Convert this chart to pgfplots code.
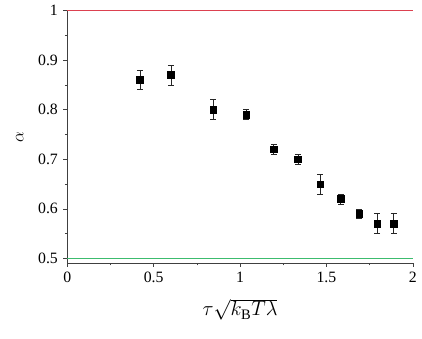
\documentclass[border=0pt]{standalone}
\usepackage{fontspec}
\setmainfont{Liberation Serif}
\usepackage{pgfplots}
\pgfplotsset{compat=1.18}
\definecolor{mred}{RGB}{220,65,80}
\definecolor{mgreen}{RGB}{60,188,110}

\pgfplotstableread{
x      y     err
0.42   0.86  0.02
0.60   0.87  0.02
0.845  0.80  0.02
1.035  0.79  0.01
1.195  0.72  0.01
1.335  0.70  0.01
1.463  0.65  0.02
1.582  0.62  0.01
1.690  0.59  0.01
1.794  0.57  0.02
1.889  0.57  0.02
}\alphadata

\begin{document}
\fontsize{16}{19}\selectfont
\begin{tikzpicture}
\begin{axis}[
    scale only axis,
    width=349bp, height=255bp,
    xmin=0, xmax=2, ymin=0.491, ymax=1,
    axis lines*=left,
    axis line style={-, black!75, line width=0.8pt},
    xtick={0,0.5,1,1.5,2},
    ytick={0.5,0.6,0.7,0.8,0.9,1},
    minor x tick num=1, minor y tick num=1,
    tick align=outside,
    major tick length=4bp, minor tick length=2.5bp,
    tick style={black!75, line width=0.6pt},
    /pgf/number format/assume math mode=true,
    tick label style={font=\fontsize{16}{19}\selectfont},
    xlabel={$\tau\sqrt{k_{\mathrm{B}}T\lambda}$},
    ylabel={$\alpha$},
    xlabel style={font=\fontsize{21}{24}\selectfont,
        at={(axis description cs:0.5,-0.184)}, anchor=center},
    ylabel style={font=\fontsize{17}{20}\selectfont,
        at={(axis description cs:-0.1375,0.5)}, anchor=center},
    clip=false,
]
\addplot[draw=mred, line width=1.3pt] coordinates {(0,1) (2,1)};
\addplot[draw=mgreen, line width=1.1pt] coordinates {(0,0.5) (2,0.5)};
\addplot[only marks, mark=square*, mark size=3.3bp, black,
    error bars/.cd, y dir=both, y explicit,
    error bar style={black!85, line width=0.7pt},
    error mark options={rotate=90, mark size=3bp, line width=0.7pt}]
    table[x=x, y=y, y error=err] {\alphadata};
\path (rel axis cs:-0.1948,-0.298) rectangle (rel axis cs:1.0143,1.0353);
\end{axis}
\end{tikzpicture}
\end{document}
